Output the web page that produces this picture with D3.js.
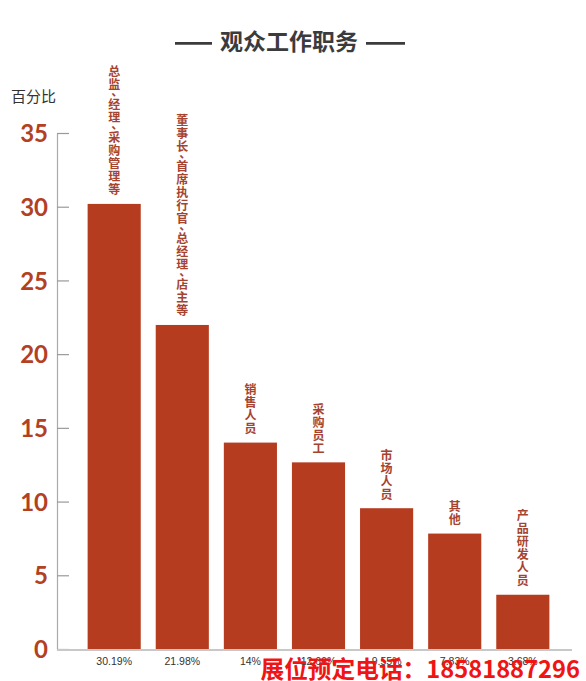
<!DOCTYPE html>
<html>
<head>
<meta charset="utf-8">
<script src="https://cdn.jsdelivr.net/npm/d3@7/dist/d3.min.js"></script>
<style>
  html, body { margin: 0; padding: 0; background: #fff; }
  svg { display: block; }
</style>
</head>
<body>
<svg id="chart" width="586" height="681"></svg>
<script>
// ---- data ----
const categories = [
  "总监、经理、采购管理等",
  "董事长、首席执行官、总经理、店主等",
  "销售人员",
  "采购员工",
  "市场人员",
  "其他",
  "产品研发人员"
];
const values = [30.19, 21.98, 14, 12.66, 9.55, 7.83, 3.68];
const pctLabels = ["30.19%", "21.98%", "14%", "12.66%", "9.55%", "7.83%", "3.68%"];
const yTicks = [0, 5, 10, 15, 20, 25, 30, 35];
const titleText = "观众工作职务";
const yAxisTitle = "百分比";
const watermark = "展位预定电话：18581887296";

// ---- setup ----
const svg = d3.select("#chart");
const CJK = "'Noto Sans CJK SC', 'Noto Sans', sans-serif";
const barColor = "#b63c20";
const labelColor = "#a5432f";
const tickColor = "#b3401f";

const x = d3.scaleBand()
  .domain(categories)
  .range([74, 563])
  .paddingInner(0.22)
  .paddingOuter(0.2);

const y = d3.scaleLinear()
  .domain([0, 35])
  .range([649, 133]);

// ---- title ----
const title = svg.append("text")
  .attr("x", 289)
  .attr("y", 50)
  .attr("text-anchor", "middle")
  .attr("font-family", CJK)
  .attr("font-weight", "bold")
  .attr("font-size", 23)
  .attr("fill", "#3b3b3d")
  .text(titleText);
const tb = title.node().getBBox();
[[tb.x - 45, tb.x - 8], [tb.x + tb.width + 8, tb.x + tb.width + 47]].forEach(([a, b]) => {
  svg.append("line")
    .attr("x1", a).attr("x2", b)
    .attr("y1", 43.3).attr("y2", 43.3)
    .attr("stroke", "#3b3b3d")
    .attr("stroke-width", 2.7);
});

// ---- y axis title ----
svg.append("text")
  .attr("x", 11)
  .attr("y", 102)
  .attr("font-family", CJK)
  .attr("font-size", 15)
  .attr("fill", "#333")
  .text(yAxisTitle);

// ---- y axis ----
const yAxis = svg.append("g")
  .attr("transform", "translate(57,0)")
  .call(d3.axisLeft(y).tickValues(yTicks).tickSizeInner(-12).tickSizeOuter(0).tickPadding(9));
yAxis.select(".domain").attr("stroke", "#aaa").attr("stroke-width", 1.2);
yAxis.selectAll(".tick line").attr("stroke", "#999").attr("stroke-width", 1.2);
yAxis.selectAll(".tick text")
  .attr("font-family", "Lato, 'Open Sans', sans-serif")
  .attr("font-weight", "bold")
  .attr("font-size", 24)
  .attr("fill", tickColor)
  .attr("dy", "0.36em");

// ---- bars ----
svg.append("g").selectAll("rect")
  .data(values)
  .join("rect")
  .attr("x", (d, i) => x(categories[i]))
  .attr("y", d => y(d))
  .attr("width", x.bandwidth())
  .attr("height", d => y(0) - y(d))
  .attr("fill", barColor);

// ---- baseline ----
svg.append("line")
  .attr("x1", 57).attr("x2", 572)
  .attr("y1", y(0) + 1).attr("y2", y(0) + 1)
  .attr("stroke", "#c8c8c8")
  .attr("stroke-width", 2);

// ---- vertical category labels ----
const fs = 12, adv = 13, punctAdv = 7;
categories.forEach((cat, i) => {
  const chars = Array.from(cat);
  const H = d3.sum(chars, c => c === "、" ? punctAdv : adv);
  const cx = x(cat) + x.bandwidth() / 2;
  let top = y(values[i]) - 8 - H;
  const t = svg.append("text")
    .attr("font-family", CJK)
    .attr("font-weight", "bold")
    .attr("font-size", fs)
    .attr("fill", labelColor)
    .attr("text-anchor", "middle");
  chars.forEach(c => {
    if (c === "、") {
      t.append("tspan").attr("x", cx + 3).attr("y", top + 5).text(c);
      top += punctAdv;
    } else {
      t.append("tspan").attr("x", cx).attr("y", top + 11.5).text(c);
      top += adv;
    }
  });
});

// ---- percentage labels (bottom axis) ----
const xAxis = svg.append("g")
  .attr("transform", `translate(0,${y(0) + 1})`)
  .call(d3.axisBottom(x).tickSize(0).tickPadding(8).tickFormat((d, i) => pctLabels[i]));
xAxis.select(".domain").remove();
xAxis.selectAll(".tick text")
  .attr("font-family", "'Liberation Sans', Arial, sans-serif")
  .attr("font-size", 10.5)
  .attr("fill", "#333");

// ---- watermark ----
svg.append("text")
  .attr("x", 580)
  .attr("y", 678)
  .attr("text-anchor", "end")
  .attr("font-family", CJK)
  .attr("font-weight", "bold")
  .attr("font-size", 23.7)
  .attr("fill", "#f01414")
  .text(watermark);
</script>
</body>
</html>
